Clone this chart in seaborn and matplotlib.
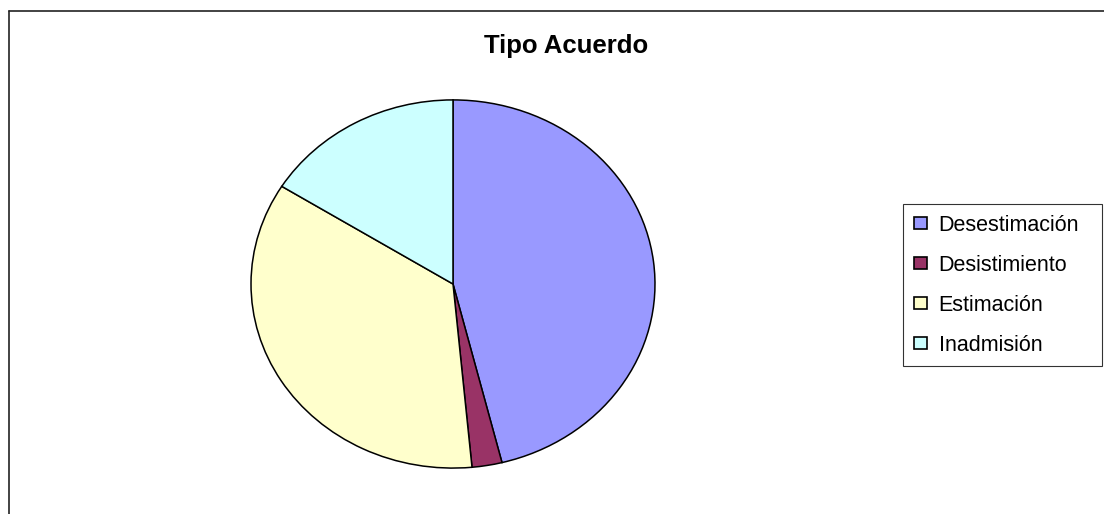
import matplotlib
matplotlib.use("Agg")
import matplotlib.pyplot as plt
import seaborn as sns
from matplotlib.patches import Patch
from matplotlib.lines import Line2D

categorias = ["Desestimación", "Desistimiento", "Estimación", "Inadmisión"]
valores = [46.1, 2.4, 35.4, 16.1]
colores = ["#9999FF", "#993366", "#FFFFCC", "#CCFFFF"]
titulo = "Tipo Acuerdo"

sns.set_theme(style="white")
plt.rcParams["font.family"] = ["Liberation Sans", "DejaVu Sans"]
plt.rcParams["text.color"] = "black"

W, H = 1104, 514
fig = plt.figure(figsize=(W / 100, H / 100), dpi=100)
fig.patch.set_facecolor("white")

# área de la torta (elipse como en Excel)
ax = fig.add_axes([250 / W, (H - 469) / H, 406 / W, 370 / H])
ax.pie(valores, colors=colores, startangle=90, counterclock=False,
       wedgeprops={"edgecolor": "black", "linewidth": 1.1})
ax.set_aspect("auto")
ax.set_xlim(-1.005, 1.005)
ax.set_ylim(-1.005, 1.005)
ax.axis("off")

# título
fig.text(566 / W, 1 - 46 / H, titulo, ha="center", va="center",
         fontsize=18.5, fontweight="bold", color="black")

# leyenda
handles = [Patch(facecolor=c, edgecolor="black", linewidth=1.2) for c in colores]
leg = fig.legend(handles, categorias, loc="upper left",
                 bbox_to_anchor=(903 / W, 1 - 204 / H, (1102 - 903) / W, 0),
                 mode="expand", frameon=True,
                 fancybox=False, fontsize=15.5, handlelength=0.6, handleheight=0.45,
                 handletextpad=0.55, labelspacing=0.88, borderpad=0.5,
                 borderaxespad=0)
leg.get_frame().set_edgecolor("black")
leg.get_frame().set_linewidth(0.8)
for t in leg.get_texts():
    t.set_color("black")

# marco del gráfico (solo se ven borde superior e izquierdo)
fig.add_artist(Line2D([8.5 / W, 8.5 / W], [0, 1 - 10.5 / H], color="#222222", lw=1.2))
fig.add_artist(Line2D([8.5 / W, 1], [1 - 10.5 / H, 1 - 10.5 / H], color="#222222", lw=1.2))

fig.savefig("out.png", dpi=100)
